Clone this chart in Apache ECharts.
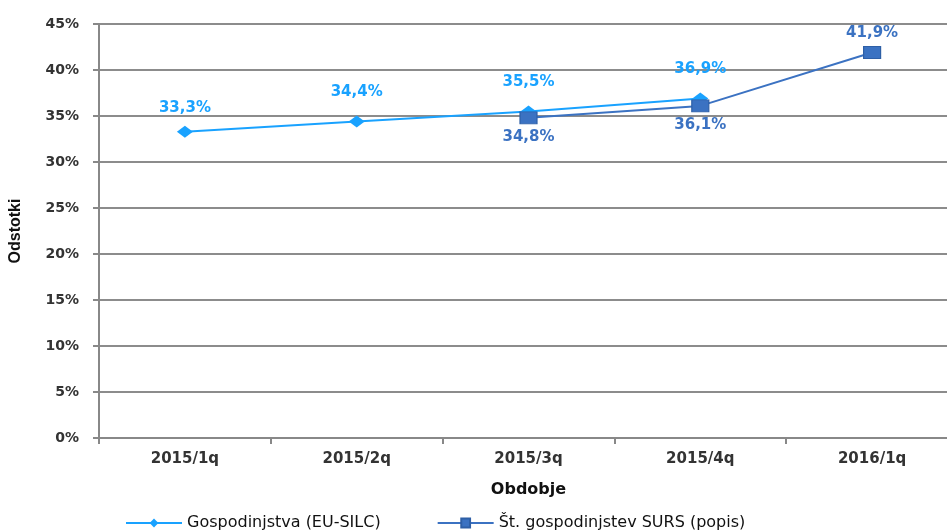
<!DOCTYPE html>
<html>
<head>
<meta charset="utf-8">
<script src="https://cdn.jsdelivr.net/npm/echarts@6/dist/echarts.min.js"></script>
<style>
  html, body { margin: 0; padding: 0; background: #fff; overflow: hidden; }
  #chart { width: 958px; height: 530px; }
</style>
</head>
<body>
<div id="chart"></div>
<script>
// Quarterly periods
const categories = ['2015/1q', '2015/2q', '2015/3q', '2015/4q', '2016/1q'];
// Share of households (%), EU-SILC survey
const euSilc = [33.3, 34.4, 35.5, 36.9, null];
// Share of households (%), SURS census count
const surs = [null, null, 34.8, 36.1, 41.9];
// Label placement for the census series
const sursLabelPos = [null, null, 'bottom', 'bottom', 'top'];

const fmt = v => v.toFixed(1).replace('.', ',') + '%';
const FONT = 'DejaVu Sans';
const LIGHT = '#19a2ff';
const DARK = '#3b72c2';

const chart = echarts.init(document.getElementById('chart'), null, { renderer: 'canvas' });

chart.setOption({
  animation: false,
  backgroundColor: '#fff',
  grid: { left: 99, top: 24, right: 0, bottom: 92, containLabel: false, outerBoundsMode: 'none' },
  xAxis: {
    type: 'category',
    data: categories,
    boundaryGap: true,
    name: 'Obdobje',
    nameLocation: 'middle',
    nameGap: 44,
    nameTextStyle: { fontFamily: FONT, fontWeight: 'bold', fontSize: 16, color: '#111' },
    axisLine: { lineStyle: { color: '#888', width: 2 } },
    axisTick: { show: true, alignWithLabel: false, length: 6, lineStyle: { color: '#888', width: 2 } },
    axisLabel: { fontFamily: FONT, fontWeight: 'bold', fontSize: 15, color: '#333', margin: 14 }
  },
  yAxis: {
    type: 'value',
    min: 0, max: 45, interval: 5,
    name: 'Odstotki',
    nameLocation: 'middle',
    nameRotate: 90,
    nameGap: 75,
    nameTextStyle: { fontFamily: 'Liberation Sans', fontWeight: 'bold', fontSize: 16, color: '#111' },
    axisLine: { show: true, lineStyle: { color: '#888', width: 2 } },
    axisTick: { show: true, length: 6, lineStyle: { color: '#888', width: 2 } },
    axisLabel: { fontFamily: FONT, fontWeight: 'bold', fontSize: 14, color: '#333', margin: 20,
                 formatter: '{value}%' },
    splitLine: { lineStyle: { color: '#8c8c8c', width: 2 } }
  },
  legend: {
    top: 510,
    left: 120,
    itemGap: 56,
    itemWidth: 56,
    itemHeight: 11,
    textStyle: { fontFamily: FONT, fontSize: 16, color: '#111' },
    data: ['Gospodinjstva (EU-SILC)', 'Št. gospodinjstev SURS (popis)']
  },
  series: [
    {
      name: 'Gospodinjstva (EU-SILC)',
      type: 'line',
      data: euSilc.map((v, i) => v == null ? null : {
        value: v,
        label: { distance: i === 0 ? 10 : 16 }
      }),
      symbol: 'diamond',
      symbolSize: [16, 12],
      color: LIGHT,
      lineStyle: { color: LIGHT, width: 2 },
      itemStyle: { color: LIGHT },
      label: {
        show: true, position: 'top',
        fontFamily: FONT, fontWeight: 'bold', fontSize: 15, color: LIGHT,
        formatter: p => fmt(p.value)
      },
      z: 2
    },
    {
      name: 'Št. gospodinjstev SURS (popis)',
      type: 'line',
      data: surs.map((v, i) => v == null ? null : {
        value: v,
        label: { position: sursLabelPos[i] }
      }),
      symbol: 'rect',
      symbolSize: [17, 12],
      color: DARK,
      lineStyle: { color: DARK, width: 2 },
      itemStyle: { color: DARK, borderColor: '#2e5fa6', borderWidth: 1 },
      label: {
        show: true, distance: 5,
        fontFamily: FONT, fontWeight: 'bold', fontSize: 15, color: DARK,
        formatter: p => fmt(p.value)
      },
      z: 3
    }
  ]
});
</script>
</body>
</html>
